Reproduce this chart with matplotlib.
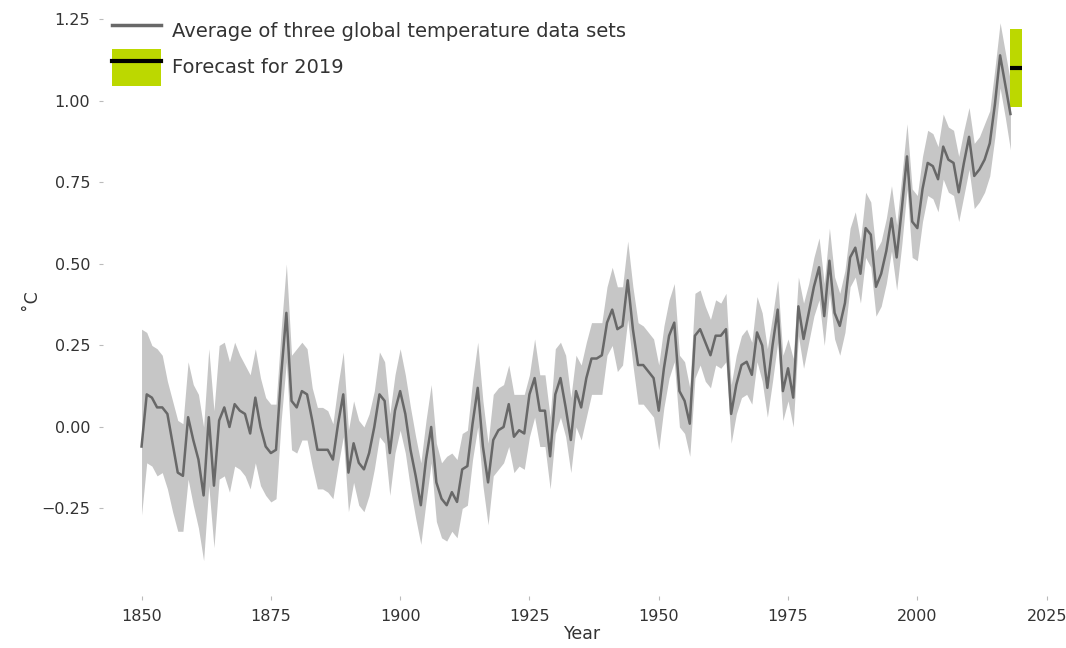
import matplotlib
matplotlib.use("Agg")
import matplotlib.pyplot as plt
import numpy as np
from matplotlib.patches import Patch
from matplotlib.lines import Line2D

# annual mean anomaly (deg C, relative to 1850-1900), 1850-2018
years = np.arange(1850, 2019)
mean = [
    -0.06, 0.10, 0.09, 0.06, 0.06, 0.04, -0.05, -0.14, -0.15, 0.03,
    -0.04, -0.10, -0.21, 0.03, -0.18, 0.02, 0.06, 0.00, 0.07, 0.05,
    0.04, -0.02, 0.09, 0.00, -0.06, -0.08, -0.07, 0.16, 0.35, 0.08,
    0.06, 0.11, 0.10, 0.02, -0.07, -0.07, -0.07, -0.10, 0.01, 0.10,
    -0.14, -0.05, -0.11, -0.13, -0.08, 0.00, 0.10, 0.08, -0.08, 0.05,
    0.11, 0.04, -0.07, -0.15, -0.24, -0.10, 0.00, -0.17, -0.22, -0.24,
    -0.20, -0.23, -0.13, -0.12, 0.01, 0.12, -0.06, -0.17, -0.04, -0.01,
    0.00, 0.07, -0.03, -0.01, -0.02, 0.10, 0.15, 0.05, 0.05, -0.09,
    0.10, 0.15, 0.06, -0.04, 0.11, 0.06, 0.15, 0.21, 0.21, 0.22,
    0.32, 0.36, 0.30, 0.31, 0.45, 0.30, 0.19, 0.19, 0.17, 0.15,
    0.05, 0.18, 0.28, 0.32, 0.11, 0.08, 0.01, 0.28, 0.30, 0.26,
    0.22, 0.28, 0.28, 0.30, 0.04, 0.13, 0.19, 0.20, 0.16, 0.29,
    0.25, 0.12, 0.25, 0.36, 0.11, 0.18, 0.09, 0.37, 0.27, 0.35,
    0.43, 0.49, 0.34, 0.51, 0.35, 0.31, 0.38, 0.52, 0.55, 0.47,
    0.61, 0.59, 0.43, 0.47, 0.54, 0.64, 0.52, 0.67, 0.83, 0.63,
    0.61, 0.73, 0.81, 0.80, 0.76, 0.86, 0.82, 0.81, 0.72, 0.81,
    0.89, 0.77, 0.79, 0.82, 0.87, 0.99, 1.14, 1.05, 0.96,
]
upper = [
    0.30, 0.29, 0.25, 0.24, 0.22, 0.14, 0.08, 0.02, 0.01, 0.20,
    0.13, 0.10, 0.00, 0.24, 0.05, 0.25, 0.26, 0.20, 0.26, 0.22,
    0.19, 0.16, 0.24, 0.15, 0.09, 0.07, 0.07, 0.30, 0.50, 0.22,
    0.24, 0.26, 0.24, 0.12, 0.06, 0.06, 0.05, 0.01, 0.13, 0.23,
    -0.01, 0.08, 0.02, 0.00, 0.04, 0.11, 0.23, 0.20, 0.04, 0.16,
    0.24, 0.16, 0.06, -0.03, -0.11, 0.02, 0.13, -0.05, -0.11, -0.09,
    -0.08, -0.10, -0.02, -0.01, 0.14, 0.26, 0.08, -0.05, 0.10, 0.12,
    0.13, 0.19, 0.10, 0.10, 0.10, 0.16, 0.27, 0.16, 0.16, 0.03,
    0.24, 0.26, 0.22, 0.09, 0.22, 0.19, 0.26, 0.32, 0.32, 0.32,
    0.43, 0.49, 0.43, 0.43, 0.57, 0.43, 0.32, 0.31, 0.29, 0.27,
    0.19, 0.31, 0.39, 0.44, 0.22, 0.20, 0.12, 0.41, 0.42, 0.37,
    0.33, 0.39, 0.38, 0.41, 0.13, 0.22, 0.28, 0.30, 0.26, 0.40,
    0.35, 0.24, 0.34, 0.45, 0.22, 0.27, 0.21, 0.46, 0.38, 0.44,
    0.52, 0.58, 0.44, 0.61, 0.46, 0.41, 0.48, 0.61, 0.66, 0.57,
    0.72, 0.69, 0.54, 0.57, 0.64, 0.74, 0.62, 0.77, 0.93, 0.73,
    0.71, 0.83, 0.91, 0.90, 0.86, 0.96, 0.92, 0.91, 0.83, 0.91,
    0.98, 0.87, 0.89, 0.93, 0.97, 1.10, 1.24, 1.15, 1.06,
]
lower = [
    -0.27, -0.11, -0.12, -0.15, -0.14, -0.19, -0.26, -0.32, -0.32, -0.16,
    -0.24, -0.31, -0.41, -0.18, -0.37, -0.16, -0.15, -0.20, -0.12, -0.13,
    -0.15, -0.19, -0.11, -0.18, -0.21, -0.23, -0.22, 0.02, 0.20, -0.07,
    -0.08, -0.04, -0.04, -0.12, -0.19, -0.19, -0.20, -0.22, -0.12, -0.03,
    -0.26, -0.17, -0.24, -0.26, -0.21, -0.13, -0.03, -0.05, -0.21, -0.08,
    -0.01, -0.08, -0.19, -0.28, -0.36, -0.23, -0.11, -0.29, -0.34, -0.35,
    -0.32, -0.34, -0.25, -0.24, -0.10, 0.00, -0.18, -0.30, -0.15, -0.13,
    -0.11, -0.06, -0.14, -0.12, -0.13, -0.03, 0.03, -0.06, -0.06, -0.19,
    -0.02, 0.03, -0.03, -0.14, 0.00, -0.04, 0.03, 0.10, 0.10, 0.10,
    0.22, 0.25, 0.17, 0.19, 0.33, 0.19, 0.07, 0.07, 0.05, 0.03,
    -0.07, 0.06, 0.15, 0.20, 0.00, -0.02, -0.09, 0.15, 0.19, 0.14,
    0.12, 0.19, 0.18, 0.20, -0.05, 0.04, 0.09, 0.10, 0.07, 0.20,
    0.14, 0.03, 0.14, 0.26, 0.02, 0.08, 0.00, 0.28, 0.18, 0.26,
    0.34, 0.39, 0.25, 0.41, 0.27, 0.22, 0.29, 0.43, 0.46, 0.38,
    0.52, 0.49, 0.34, 0.37, 0.44, 0.54, 0.42, 0.56, 0.73, 0.52,
    0.51, 0.63, 0.71, 0.70, 0.66, 0.76, 0.72, 0.71, 0.63, 0.71,
    0.79, 0.67, 0.69, 0.72, 0.77, 0.89, 1.04, 0.95, 0.85,
]

# forecast for 2019: central value and range
forecast_year = 2019
forecast_mid = 1.10
forecast_low = 0.98
forecast_high = 1.22

fig = plt.figure(figsize=(10.66, 6.48), dpi=100)
ax = fig.add_axes([0.0964, 0.0795, 0.90, 0.9156])

ax.fill_between(years, lower, upper, color="#c6c6c6", linewidth=0)
ax.plot(years, mean, color="#686868", linewidth=1.8)

# forecast bar with central value
ax.bar(forecast_year, forecast_high - forecast_low, bottom=forecast_low,
       width=2.3, color="#bcd800", linewidth=0)
ax.plot([forecast_year - 1.15, forecast_year + 1.15], [forecast_mid, forecast_mid],
        color="black", linewidth=3, solid_capstyle="butt")

ax.set_xlim(1842.5, 2028)
ax.set_ylim(-0.52, 1.3)
ax.set_xticks([1850, 1875, 1900, 1925, 1950, 1975, 2000, 2025])
ax.set_yticks([-0.25, 0.0, 0.25, 0.5, 0.75, 1.0, 1.25])
ax.set_yticklabels(["\u22120.25", "0.00", "0.25", "0.50", "0.75", "1.00", "1.25"])
for s in ax.spines.values():
    s.set_visible(False)
ax.tick_params(axis="both", labelsize=11.5, colors="#bbbbbb", labelcolor="#333333",
               length=3, width=0.8, pad=6)

ax.set_xlabel("Year", fontsize=12.5, color="#333333", labelpad=1)
ax.set_ylabel("\u02daC", fontsize=12.5, color="#333333", labelpad=1)

handles = [Line2D([], [], color="#686868", linewidth=2.5),
           (Patch(facecolor="#bcd800", linewidth=0),
            Line2D([], [], color="black", linewidth=3))]
labels = ["Average of three global temperature data sets", "Forecast for 2019"]
ax.legend(handles, labels, loc="upper left", bbox_to_anchor=(0.0, 1.0),
          frameon=False, fontsize=14, handlelength=2.5, handleheight=2.5,
          labelspacing=0.0, handletextpad=0.55, borderaxespad=0.1,
          labelcolor="#333333")

fig.savefig("out.png", dpi=100)
